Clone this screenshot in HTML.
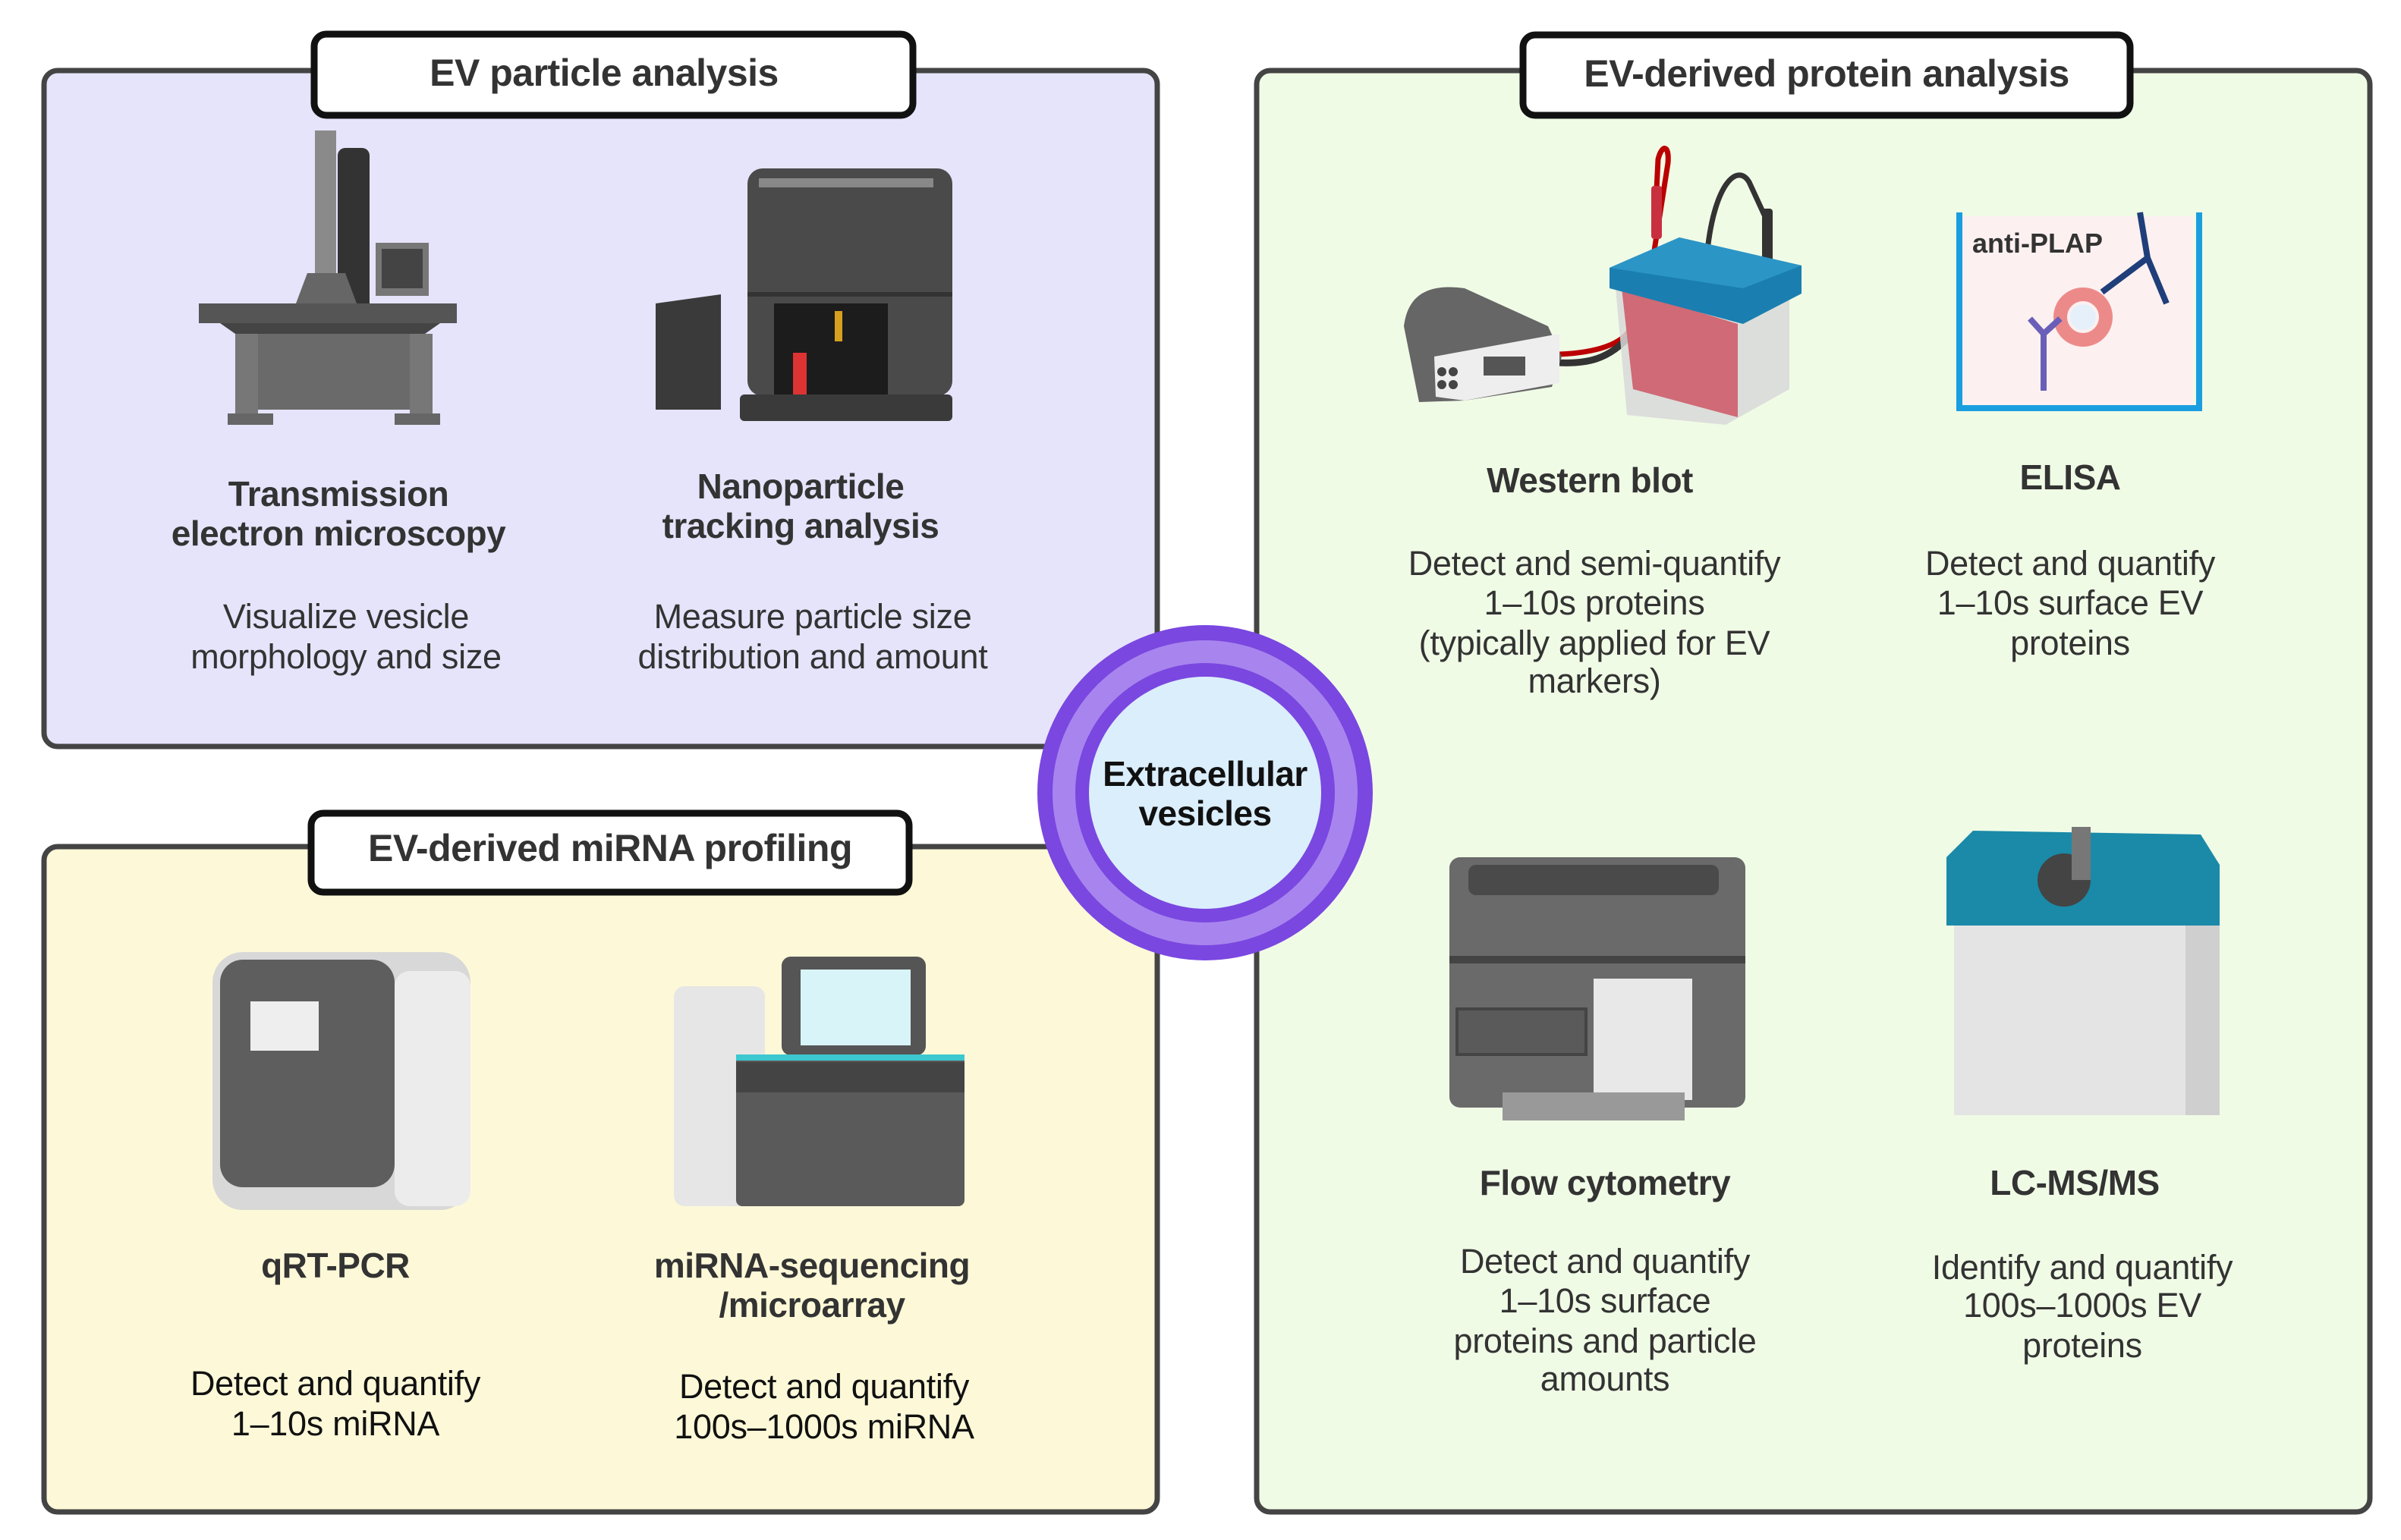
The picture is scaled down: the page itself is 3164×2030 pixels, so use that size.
<!DOCTYPE html>
<html><head><meta charset="utf-8"><style>
html,body{margin:0;padding:0;background:#fff;}
svg{display:block;}
text{font-family:"Liberation Sans",sans-serif;}
.t{font-size:50px;font-weight:bold;fill:#333;text-anchor:middle;letter-spacing:-0.5px;}
.l{font-size:46px;font-weight:bold;fill:#333;text-anchor:middle;letter-spacing:-0.5px;}
.d{font-size:45px;fill:#333;text-anchor:middle;letter-spacing:-0.3px;}
.k{fill:#111;}
</style></head><body>
<svg width="3164" height="2030" viewBox="0 0 3164 2030" xmlns="http://www.w3.org/2000/svg">
<rect x="58" y="93" width="1467" height="891" rx="18" fill="#e6e4fb" stroke="#444" stroke-width="7"/>
<rect x="58" y="1116" width="1467" height="877" rx="18" fill="#fdf9d8" stroke="#444" stroke-width="7"/>
<rect x="1656" y="93" width="1467" height="1900" rx="18" fill="#f0fbe6" stroke="#444" stroke-width="7"/>
<rect x="414" y="45" width="789" height="107" rx="16" fill="#fff" stroke="#111" stroke-width="9"/>
<text class="t" x="796" y="113">EV particle analysis</text>
<rect x="410" y="1072" width="788" height="104" rx="16" fill="#fff" stroke="#111" stroke-width="9"/>
<text class="t" x="804" y="1135">EV-derived miRNA profiling</text>
<rect x="2007" y="46" width="800" height="106" rx="16" fill="#fff" stroke="#111" stroke-width="9"/>
<text class="t" x="2407" y="114">EV-derived protein analysis</text>

<!-- TEM -->
<g>
<rect x="415" y="172" width="28" height="260" fill="#8a8a8a"/>
<rect x="445" y="195" width="42" height="230" rx="10" fill="#333"/>
<rect x="495" y="320" width="70" height="70" fill="#777"/><rect x="503" y="328" width="54" height="52" fill="#444"/>
<rect x="262" y="400" width="340" height="26" fill="#555"/>
<polygon points="290,426 580,426 560,440 310,440" fill="#444"/>
<rect x="340" y="440" width="200" height="100" fill="#6a6a6a"/>
<rect x="310" y="440" width="30" height="110" fill="#777"/>
<rect x="540" y="440" width="30" height="110" fill="#777"/>
<rect x="300" y="545" width="60" height="15" fill="#666"/><rect x="520" y="545" width="60" height="15" fill="#666"/>
<polygon points="390,400 470,400 455,360 405,360" fill="#666"/>
</g>
<!-- NTA -->
<g>
<rect x="985" y="222" width="270" height="300" rx="20" fill="#4a4a4a"/>
<rect x="1000" y="235" width="230" height="12" fill="#888"/>
<rect x="985" y="385" width="270" height="6" fill="#333"/>
<rect x="1020" y="400" width="150" height="120" fill="#1c1c1c"/>
<rect x="1045" y="465" width="18" height="55" fill="#d33"/>
<rect x="1100" y="410" width="10" height="40" fill="#d8a020"/>
<polygon points="864,400 950,388 950,540 864,540" fill="#3a3a3a"/>
<rect x="975" y="520" width="280" height="35" rx="6" fill="#3a3a3a"/>
</g>
<text class="l" x="446" y="667">Transmission</text>
<text class="l" x="446" y="719">electron microscopy</text>
<text class="d" x="456" y="828">Visualize vesicle</text>
<text class="d" x="456" y="881">morphology and size</text>
<text class="l" x="1055" y="657">Nanoparticle</text>
<text class="l" x="1055" y="709">tracking analysis</text>
<text class="d" x="1071" y="828">Measure particle size</text>
<text class="d" x="1071" y="881">distribution and amount</text>

<!-- qPCR -->
<g>
<rect x="280" y="1255" width="340" height="340" rx="40" fill="#d8d8d8"/>
<rect x="290" y="1265" width="230" height="300" rx="30" fill="#5e5e5e"/>
<rect x="330" y="1320" width="90" height="65" fill="#eee"/>
<rect x="520" y="1280" width="100" height="310" rx="20" fill="#ececec"/>
</g>
<!-- miRNA seq -->
<g>
<rect x="1030" y="1261" width="190" height="130" rx="12" fill="#555"/>
<rect x="1055" y="1278" width="145" height="100" fill="#d8f4f8"/>
<rect x="888" y="1300" width="120" height="290" rx="14" fill="#e6e6e6"/>
<rect x="970" y="1390" width="301" height="200" rx="8" fill="#5a5a5a"/>
<rect x="970" y="1390" width="301" height="8" fill="#3cc8d0"/>
<rect x="970" y="1400" width="301" height="40" fill="#444"/>
</g>
<text class="l" x="442" y="1684">qRT-PCR</text>
<text class="d k" x="442" y="1839">Detect and quantify</text>
<text class="d k" x="442" y="1892">1–10s miRNA</text>
<text class="l" x="1070" y="1684">miRNA-sequencing</text>
<text class="l" x="1070" y="1736">/microarray</text>
<text class="d k" x="1086" y="1843">Detect and quantify</text>
<text class="d k" x="1086" y="1896">100s–1000s  miRNA</text>

<!-- Western blot -->
<g>
<path d="M2183 250 L2185 210 C2190 190 2200 190 2198 215 L2180 330 L2150 430 C2140 455 2100 465 2055 467" stroke="#b00" stroke-width="7" fill="none"/>
<path d="M2250 330 C2260 240 2290 215 2305 240 L2328 290" stroke="#333" stroke-width="7" fill="none"/>
<path d="M2150 440 C2120 475 2090 480 2052 478" stroke="#333" stroke-width="9" fill="none"/>
<rect x="2176" y="245" width="14" height="70" rx="4" fill="#c83040"/>
<rect x="2322" y="275" width="14" height="70" rx="4" fill="#333"/>
<path d="M1850 430 C1855 390 1880 373 1930 380 L2040 430 L2058 470 L2045 510 L1930 528 L1870 530 Z" fill="#666"/>
<path d="M1890 470 L2055 440 L2055 505 L1930 528 L1892 523 Z" fill="#eee"/>
<rect x="1955" y="470" width="55" height="25" fill="#555"/>
<circle cx="1900" cy="490" r="6" fill="#444"/><circle cx="1915" cy="490" r="6" fill="#444"/>
<circle cx="1900" cy="507" r="6" fill="#444"/><circle cx="1915" cy="507" r="6" fill="#444"/>
<polygon points="2129,380 2358,393 2358,513 2274,560 2144,547" fill="#d8d8d8" opacity="0.85"/>
<polygon points="2137,380 2290,427 2290,550 2152,513" fill="#cf6a76"/>
<polygon points="2121,353 2213,313 2374,350 2374,387 2297,427 2121,380" fill="#1a7fb0"/>
<polygon points="2121,353 2213,313 2374,350 2297,380" fill="#2b95c6"/>
</g>
<!-- ELISA -->
<g>
<rect x="2585" y="285" width="305" height="255" fill="#fdf0f0"/>
<path d="M2582 280 L2582 538 L2898 538 L2898 280" stroke="#1a9ee0" stroke-width="8" fill="none"/>
<text x="2599" y="333" style="font-size:36px;font-weight:bold;fill:#333;">anti-PLAP</text>
<circle cx="2745" cy="418" r="30" fill="none" stroke="#ec8a8a" stroke-width="18"/>
<circle cx="2745" cy="418" r="17" fill="#e6f0fa"/>
<path d="M2693 515 L2693 440 L2675 420 M2693 440 L2715 420" stroke="#6a5fb8" stroke-width="8" fill="none"/>
<path d="M2770 385 L2830 340 M2830 340 L2820 280 M2830 340 L2855 400" stroke="#1f3e7a" stroke-width="8" fill="none"/>
</g>
<text class="l" x="2095" y="649">Western blot</text>
<text class="d" x="2101" y="758">Detect and semi-quantify</text>
<text class="d" x="2101" y="810">1–10s proteins</text>
<text class="d" x="2101" y="863">(typically applied for EV</text>
<text class="d" x="2101" y="913">markers)</text>
<text class="l" x="2728" y="645">ELISA</text>
<text class="d" x="2728" y="758">Detect and quantify</text>
<text class="d" x="2728" y="810">1–10s surface EV</text>
<text class="d" x="2728" y="863">proteins</text>

<!-- Flow -->
<g>
<rect x="1910" y="1130" width="390" height="330" rx="14" fill="#6a6a6a"/>
<rect x="1935" y="1140" width="330" height="40" rx="10" fill="#4a4a4a"/>
<rect x="1910" y="1260" width="390" height="10" fill="#444"/>
<rect x="1920" y="1330" width="170" height="60" fill="#5a5a5a" stroke="#444" stroke-width="4"/>
<rect x="2100" y="1290" width="130" height="160" fill="#e8e8e8"/>
<rect x="1980" y="1440" width="240" height="37" fill="#999"/>
</g>
<!-- LC-MS -->
<g>
<rect x="2575" y="1180" width="340" height="290" fill="#e4e4e4"/>
<rect x="2880" y="1180" width="45" height="290" fill="#cfcfcf"/>
<path d="M2565 1130 L2600 1095 L2900 1100 L2925 1140 L2925 1220 L2565 1220 Z" fill="#1a8aa8"/>
<circle cx="2720" cy="1160" r="35" fill="#444"/>
<rect x="2730" y="1090" width="25" height="70" fill="#777"/>
</g>
<text class="l" x="2115" y="1575">Flow cytometry</text>
<text class="d" x="2115" y="1678">Detect and quantify</text>
<text class="d" x="2115" y="1730">1–10s surface</text>
<text class="d" x="2115" y="1783">proteins and particle</text>
<text class="d" x="2115" y="1833">amounts</text>
<text class="l" x="2734" y="1575">LC-MS/MS</text>
<text class="d" x="2744" y="1686">Identify and quantify</text>
<text class="d" x="2744" y="1736">100s–1000s EV</text>
<text class="d" x="2744" y="1789">proteins</text>

<circle cx="1588" cy="1045" r="221" fill="#7a47e0"/>
<circle cx="1588" cy="1045" r="201" fill="#a885ee"/>
<circle cx="1588" cy="1045" r="171" fill="#7a47e0"/>
<circle cx="1588" cy="1045" r="153" fill="#dbeefc"/>
<text x="1588" y="1036" style="font-size:46px;font-weight:bold;fill:#111;text-anchor:middle;letter-spacing:-0.5px;">Extracellular</text>
<text x="1588" y="1088" style="font-size:46px;font-weight:bold;fill:#111;text-anchor:middle;letter-spacing:-0.5px;">vesicles</text>
</svg>
</body></html>
